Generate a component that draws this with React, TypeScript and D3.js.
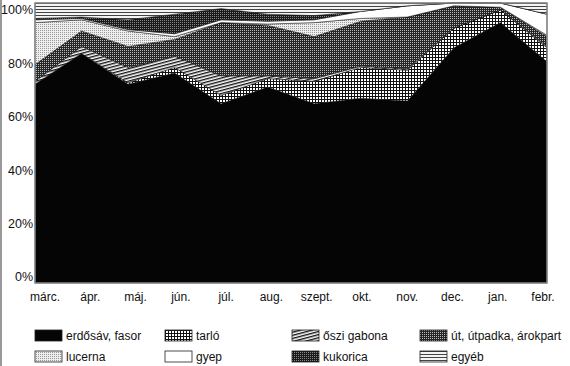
import React from "react";
import * as d3 from "d3";

const months = ["márc.", "ápr.", "máj.", "jún.", "júl.", "aug.", "szept.", "okt.", "nov.", "dec.", "jan.", "febr."];

// shares in percent, stacked bottom to top in this order
const erdosav = [71, 82, 71, 75, 64, 70, 64, 66, 65, 84, 93, 79];
const tarlo = [0, 0, 0.5, 2, 3, 3, 8, 11, 11, 7, 4.5, 5];
const osziGabona = [1, 2.5, 5.5, 4, 7, 1, 1, 0.5, 0.5, 0, 0, 0.5];
const ut = [6, 5.5, 7.5, 6, 19, 18, 15, 16, 18.5, 8, 1, 3.5];
const lucerna = [15, 4, 5.5, 1, 0, 0.5, 5, 1, 0, 0, 0, 0.5];
const gyep = [1, 0.5, 0.5, 1, 1, 1, 1, 2.5, 4, 1, 1.5, 7.5];
const kukorica = [0.5, 0.5, 3.5, 7, 4, 2.5, 1.5, 0, 0, 0, 0, 0];
const egyeb = [5.5, 5, 6, 4, 2, 4, 4.5, 3, 1, 0, 0, 4];

const yTicks = [0, 20, 40, 60, 80, 100];

const series = [
  { key: "erdosav", label: "erdősáv, fasor", values: erdosav, fill: "#050505" },
  { key: "tarlo", label: "tarló", values: tarlo, fill: "url(#p-tarlo)" },
  { key: "oszi", label: "őszi gabona", values: osziGabona, fill: "url(#p-oszi)" },
  { key: "ut", label: "út, útpadka, árokpart", values: ut, fill: "url(#p-ut)" },
  { key: "lucerna", label: "lucerna", values: lucerna, fill: "url(#p-lucerna)" },
  { key: "gyep", label: "gyep", values: gyep, fill: "#ffffff" },
  { key: "kukorica", label: "kukorica", values: kukorica, fill: "url(#p-kukorica)" },
  { key: "egyeb", label: "egyéb", values: egyeb, fill: "url(#p-egyeb)" },
];

const W = 570;
const H = 366;
const plot = { left: 35, right: 547, top: 3, bottom: 283 };
const font = "'Liberation Sans', Arial, sans-serif";

export default function App() {
  const rows = months.map((m, i) => {
    const r: Record<string, any> = { month: m };
    series.forEach((s) => (r[s.key] = s.values[i]));
    return r;
  });
  const stacked = d3.stack<any>().keys(series.map((s) => s.key))(rows);

  const x = d3.scalePoint<string>().domain(months).range([plot.left, plot.right]);
  const xLabel = d3.scalePoint<string>().domain(months).range([45, 543]);
  const y = d3.scaleLinear().domain([0, 100]).range([plot.bottom, plot.top]);
  // tick labels in the scan sit a little inside the plotted range
  const yLabel = d3.scaleLinear().domain([0, 100]).range([277, 10]);

  const area = d3
    .area<any>()
    .x((d) => x(d.data.month) as number)
    .y0((d) => y(d[0]))
    .y1((d) => y(d[1]));

  const legendCols = [35, 165, 292, 420];
  const legendRows = [330, 351];

  return (
    <svg width={W} height={H} style={{ position: "absolute", left: 0, top: 0, background: "#fff" }}>
      <defs>
        <pattern id="p-tarlo" width="3" height="3" patternUnits="userSpaceOnUse">
          <rect width="3" height="3" fill="#fff" />
          <rect width="3" height="1" fill="#111" />
          <rect width="1" height="3" fill="#111" />
        </pattern>
        <pattern id="p-oszi" width="4" height="3" patternUnits="userSpaceOnUse" patternTransform="rotate(-15)">
          <rect width="4" height="3" fill="#fff" />
          <rect width="4" height="1.4" fill="#111" />
        </pattern>
        <pattern id="p-ut" width="2" height="2" patternUnits="userSpaceOnUse">
          <rect width="2" height="2" fill="#262626" />
          <rect width="1" height="1" fill="#bbb" />
        </pattern>
        <pattern id="p-lucerna" width="2" height="2" patternUnits="userSpaceOnUse">
          <rect width="2" height="2" fill="#eee" />
          <rect width="1" height="1" fill="#999" />
        </pattern>
        <pattern id="p-kukorica" width="2" height="2" patternUnits="userSpaceOnUse">
          <rect width="2" height="2" fill="#1a1a1a" />
          <rect width="1" height="1" fill="#888" />
        </pattern>
        <pattern id="p-egyeb" width="3" height="3" patternUnits="userSpaceOnUse">
          <rect width="3" height="3" fill="#f4f4f4" />
          <rect width="3" height="1" fill="#444" />
        </pattern>
      </defs>

      <line x1={1} x2={1} y1={0} y2={H} stroke="#999" strokeWidth={2} />

      {stacked.map((layer, i) => (
        <path key={layer.key} d={area(layer as any) || ""} fill={series[i].fill} stroke="#111" strokeWidth={0.5} />
      ))}

      <rect
        x={plot.left}
        y={plot.top}
        width={plot.right - plot.left}
        height={plot.bottom - plot.top}
        fill="none"
        stroke="#888"
        strokeWidth={1.5}
      />

      {yTicks.map((t) => (
        <text
          key={t}
          x={33}
          y={yLabel(t)}
          dy="0.35em"
          textAnchor="end"
          fontFamily={font}
          fontSize={12.5}
          fill="#111"
        >
          {t}%
        </text>
      ))}

      {months.map((m) => (
        <text key={m} x={xLabel(m)} y={301} textAnchor="middle" fontFamily={font} fontSize={12} fill="#111">
          {m}
        </text>
      ))}

      {series.map((s, i) => {
        const col = i % 4;
        const row = Math.floor(i / 4);
        const lx = legendCols[col];
        const ly = legendRows[row];
        return (
          <g key={s.key}>
            <rect x={lx} y={ly} width={27} height={11} fill={s.fill} stroke="#222" strokeWidth={0.8} />
            <text x={lx + 31} y={ly + 10} fontFamily={font} fontSize={12} fill="#111">
              {s.label}
            </text>
          </g>
        );
      })}
    </svg>
  );
}
